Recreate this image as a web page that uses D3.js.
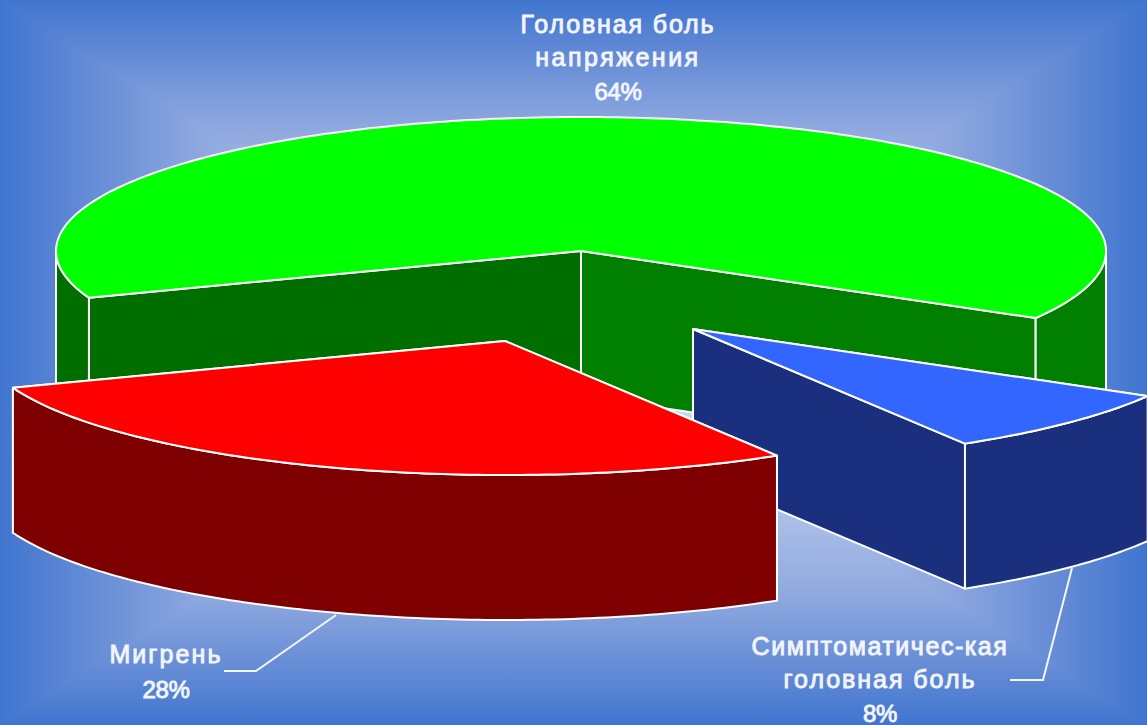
<!DOCTYPE html>
<html>
<head>
<meta charset="utf-8">
<script src="https://cdn.jsdelivr.net/npm/d3@7"></script>
<style>
  html, body { margin: 0; padding: 0; background: #4075cf; }
  svg { display: block; }
  text { font-family: "Liberation Sans", Arial, sans-serif; font-weight: 400; fill: #f2f5fb; stroke: #f2f5fb; stroke-width: 0.9px; text-anchor: middle; }
</style>
</head>
<body>
<div id="chart"></div>
<script>
const categories = ["Симптоматичес-кая головная боль", "Мигрень", "Головная боль напряжения"];
const values = [8, 28, 64];
const topColors = ["#3366ff", "#ff0000", "#00ff00"];
const wallColors = ["#1a2f7e", "#7f0000", "#007f00"];
const leftWallColors = ["#1a2f7e", "#7f0000", "#006f00"];
const labelLines = [
  ["Симптоматичес-кая", "головная боль", "8%"],
  ["Мигрень", "28%"],
  ["Головная боль", "напряжения", "64%"],
];

const width = 1147, height = 725;
const rx = 525, ry = 134, depth = 145;
// exploded pie centres, same order as categories
const centers = [[693, 329], [505, 341], [581, 251]];
const drawOrder = [2, 0, 1];

const svg = d3.select("#chart").append("svg").attr("width", width).attr("height", height);
const defs = svg.append("defs");

// rectangular "path" gradient: one triangle per side of the slide
const bgCx = 573, bgCy = 362;
const bgStops = [[0, "#e2e9f6"], [0.65, "#8ea8df"], [0.86, "#6189d5"], [1, "#4075cf"]];
const sides = [
  { id: "bgTop", pts: [[0, 0], [width, 0]], to: [bgCx, 0] },
  { id: "bgBottom", pts: [[0, height], [width, height]], to: [bgCx, height] },
  { id: "bgLeft", pts: [[0, 0], [0, height]], to: [0, bgCy] },
  { id: "bgRight", pts: [[width, 0], [width, height]], to: [width, bgCy] },
];
sides.forEach((s) => {
  const g = defs.append("linearGradient").attr("id", s.id).attr("gradientUnits", "userSpaceOnUse")
    .attr("x1", bgCx).attr("y1", bgCy).attr("x2", s.to[0]).attr("y2", s.to[1]);
  bgStops.forEach((d) => g.append("stop").attr("offset", d[0]).attr("stop-color", d[1]));
  svg.append("polygon")
    .attr("points", [...s.pts, [bgCx, bgCy]].map((p) => p.join(",")).join(" "))
    .attr("fill", `url(#${s.id})`)
    .attr("stroke", `url(#${s.id})`);
});

const pie = d3.pie().sort(null).startAngle((120 * Math.PI) / 180).endAngle((480 * Math.PI) / 180);
const arcs = pie(values);
const line = d3.line();
const white = { stroke: "#ffffff", width: 2 };

function project(i, a, drop = 0) {
  const x = d3.scaleLinear().domain([-1, 1]).range([centers[i][0] - rx, centers[i][0] + rx]);
  const y = d3.scaleLinear().domain([-1, 1]).range([centers[i][1] + ry, centers[i][1] - ry]);
  return [x(Math.sin(a)), y(Math.cos(a)) + drop];
}

function arcPoints(i, a0, a1, drop = 0) {
  const n = Math.max(2, Math.ceil(Math.abs(a1 - a0) * 60));
  return d3.range(n + 1).map((k) => project(i, a0 + ((a1 - a0) * k) / n, drop));
}

// parts of [a0, a1] on the near side of the ellipse
function frontRuns(a0, a1) {
  const runs = [];
  [-1, 0, 1, 2].forEach((k) => {
    const lo = Math.max(a0, Math.PI / 2 + k * 2 * Math.PI);
    const hi = Math.min(a1, (3 * Math.PI) / 2 + k * 2 * Math.PI);
    if (hi > lo) runs.push([lo, hi]);
  });
  return runs;
}

function face(g, pts, fill) {
  g.append("path").attr("d", line(pts) + "Z").attr("fill", fill)
    .attr("stroke", white.stroke).attr("stroke-width", white.width).attr("stroke-linejoin", "round");
}

drawOrder.forEach((i) => {
  const d = arcs[i];
  const g = svg.append("g").attr("class", "slice");
  const c = centers[i];
  const shade = (x) => (x < c[0] ? leftWallColors[i] : wallColors[i]);
  [d.startAngle, d.endAngle].forEach((a) => {
    const p = project(i, a);
    face(g, [c, p, [p[0], p[1] + depth], [c[0], c[1] + depth]], shade(p[0]));
  });
  frontRuns(d.startAngle, d.endAngle).forEach(([lo, hi]) => {
    face(g, [...arcPoints(i, lo, hi), ...arcPoints(i, hi, lo, depth)], shade(project(i, lo)[0]));
  });
  face(g, [c, ...arcPoints(i, d.startAngle, d.endAngle)], topColors[i]);
});

// leader lines
const leaders = [
  [[1010, 680], [1043, 680], [1072, 568]],
  [[224, 671], [256, 671], [336, 615]],
];
leaders.forEach((pts) => {
  svg.append("path").attr("d", line(pts)).attr("fill", "none").attr("stroke", "#f4f7fc").attr("stroke-width", 2);
});

// labels, one font size and spacing per line to fit the widths in the picture
const labelPos = [
  { x: 880, y: [655, 688, 722], size: [25, 25, 24], spacing: [1.55, 1.95, -0.3] },
  { x: 166, y: [663, 698], size: [25, 24], spacing: [2.1, -0.3] },
  { x: 618, y: [33, 66, 100], size: [25, 25, 24], spacing: [1.85, 2.5, -0.3] },
];
labelLines.forEach((lines, i) => {
  const t = svg.append("text");
  lines.forEach((s, k) => {
    t.append("tspan")
      .attr("x", labelPos[i].x)
      .attr("y", labelPos[i].y[k])
      .attr("font-size", labelPos[i].size[k])
      .attr("letter-spacing", labelPos[i].spacing[k])
      .text(s);
  });
});
</script>
</body>
</html>
